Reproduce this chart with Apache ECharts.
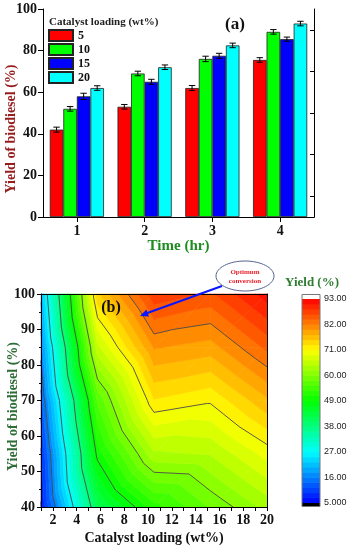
<!DOCTYPE html>
<html><head><meta charset="utf-8">
<script src="https://cdn.jsdelivr.net/npm/echarts@6/dist/echarts.min.js"></script>
<style>html,body{margin:0;padding:0;background:#fff}#c{width:350px;height:550px}</style>
</head><body><div id="c"></div>
<script>
// ===== Panel (a): yield vs time, grouped by catalyst loading =====
const times = ['1', '2', '3', '4'];
const loadings = ['5', '10', '15', '20'];
const yield5  = [42, 53, 62, 75.5];
const yield10 = [52, 69, 76, 89];
const yield15 = [58, 65, 77.5, 85.5];
const yield20 = [62, 72, 82.5, 93];
const err5  = [1.2, 1.1, 1.2, 1.1];
const err10 = [1.1, 1.1, 1.3, 1.1];
const err15 = [1.5, 1.2, 1.2, 1.0];
const err20 = [1.1, 1.1, 1.1, 1.1];

// ===== Panel (b): contour grid (x = catalyst loading, y = yield axis, z = yield %) =====
const catLoad   = [1, 5.75, 10.5, 15.25, 20];
const yieldAxis = [40, 55, 70, 85, 100];
const zRow40  = [7, 42, 52.5, 58, 63];
const zRow55  = [9, 50, 64, 64.6, 69.7];
const zRow70  = [13, 56, 73, 71.4, 77.2];
const zRow85  = [17, 66, 80, 78.8, 84.8];
const zRow100 = [21, 75, 88, 86, 92];
const contourLevels = [16, 27, 38, 49, 60, 71, 82];
const zMin = 5, zMax = 93, zMajor = 11;

const SERIF = 'Liberation Serif';
const zGrid = [zRow40, zRow55, zRow70, zRow85, zRow100];
const barColors = ['#ff0000', '#00ff00', '#0000ff', '#00ffff'];
const yieldSets = [yield5, yield10, yield15, yield20];
const errSets = [err5, err10, err15, err20];

// colour scale
const cStops = [[5, [0, 0, 255]], [27, [0, 255, 255]], [49, [0, 255, 0]], [71, [255, 255, 0]], [93, [255, 0, 0]]];
function colorOf(v) {
  if (v <= cStops[0][0]) return 'rgb(0,0,255)';
  for (let i = 1; i < cStops.length; i++) {
    if (v <= cStops[i][0]) {
      const a = cStops[i - 1], b = cStops[i];
      const t = (v - a[0]) / (b[0] - a[0]);
      const c = a[1].map((q, k) => Math.round(q + (b[1][k] - q) * t));
      return 'rgb(' + c.join(',') + ')';
    }
  }
  return 'rgb(255,0,0)';
}
const nBands = 40;
const bandStep = (zMax - zMin) / nBands;
function bandIdx(v) { return Math.max(0, Math.min(nBands - 1, Math.floor((v - zMin) / bandStep))); }
function bandColor(k) { return colorOf(zMin + (k + 0.5) * bandStep); }

// clip a polygon of {p, v} vertices to v >= L (above) or v <= L
function clipPoly(poly, L, above) {
  const out = [];
  for (let a = 0; a < poly.length; a++) {
    const P = poly[a], Q = poly[(a + 1) % poly.length];
    const pin = above ? P.v >= L : P.v <= L;
    const qin = above ? Q.v >= L : Q.v <= L;
    if (pin) out.push(P);
    if (pin !== qin) {
      const t = (L - P.v) / (Q.v - P.v);
      out.push({ p: [P.p[0] + (Q.p[0] - P.p[0]) * t, P.p[1] + (Q.p[1] - P.p[1]) * t], v: L });
    }
  }
  return out;
}
function cellTriangles(api, i, j) {
  const BL = { p: api.coord([catLoad[i], yieldAxis[j]]), v: zGrid[j][i] };
  const BR = { p: api.coord([catLoad[i + 1], yieldAxis[j]]), v: zGrid[j][i + 1] };
  const TR = { p: api.coord([catLoad[i + 1], yieldAxis[j + 1]]), v: zGrid[j + 1][i + 1] };
  const TL = { p: api.coord([catLoad[i], yieldAxis[j + 1]]), v: zGrid[j + 1][i] };
  return [[BL, BR, TR], [BL, TR, TL]];
}
const cellData = [];
for (let j = 0; j < yieldAxis.length - 1; j++)
  for (let i = 0; i < catLoad.length - 1; i++) cellData.push([catLoad[i], yieldAxis[j], i, j]);

const chart = echarts.init(document.getElementById('c'), null, { renderer: 'canvas' });

const series = [];
loadings.forEach((name, s) => {
  series.push({
    name: name, type: 'bar', xAxisIndex: 0, yAxisIndex: 0,
    data: yieldSets[s], barGap: '0%', barCategoryGap: '20%',
    itemStyle: { color: barColors[s], borderColor: '#222', borderWidth: 0.8 }
  });
});
const errData = [];
loadings.forEach((name, s) => times.forEach((t, c) => errData.push([c, s, yieldSets[s][c], errSets[s][c]])));
series.push({
  type: 'custom', xAxisIndex: 0, yAxisIndex: 0, z: 5, silent: true,
  encode: { x: 0, y: 2 },
  data: errData,
  renderItem: function (params, api) {
    const c = api.value(0), s = api.value(1), v = api.value(2), e = api.value(3);
    const band = api.size([1, 0])[0];
    const off = (s - 1.5) * band * 0.2;
    const top = api.coord([c, v + e]), bot = api.coord([c, v - e]);
    const x = top[0] + off, hw = 3.2;
    const st = { stroke: '#000', lineWidth: 1 };
    return { type: 'group', children: [
      { type: 'line', shape: { x1: x, y1: top[1], x2: x, y2: bot[1] }, style: st },
      { type: 'line', shape: { x1: x - hw, y1: top[1], x2: x + hw, y2: top[1] }, style: st },
      { type: 'line', shape: { x1: x - hw, y1: bot[1], x2: x + hw, y2: bot[1] }, style: st }
    ] };
  }
});
// contour fill: filled bands between fine levels
series.push({
  type: 'custom', xAxisIndex: 2, yAxisIndex: 2, z: 2, silent: true,
  data: cellData,
  renderItem: function (params, api) {
    const i = api.value(2), j = api.value(3);
    const children = [];
    cellTriangles(api, i, j).forEach(tri => {
      const vs = tri.map(q => q.v);
      const k0 = bandIdx(Math.min.apply(null, vs)), k1 = bandIdx(Math.max.apply(null, vs));
      for (let k = k0; k <= k1; k++) {
        let poly = tri;
        if (k > 0) poly = clipPoly(poly, zMin + k * bandStep, true);
        if (k < nBands - 1) poly = clipPoly(poly, zMin + (k + 1) * bandStep, false);
        if (poly.length < 3) continue;
        const col = bandColor(k);
        children.push({ type: 'polygon', shape: { points: poly.map(q => q.p) },
          style: { fill: col, stroke: col, lineWidth: 0.6, lineJoin: 'round' } });
      }
    });
    return { type: 'group', children: children };
  }
});
// contour lines at major levels
series.push({
  type: 'custom', xAxisIndex: 2, yAxisIndex: 2, z: 3, silent: true,
  data: cellData,
  renderItem: function (params, api) {
    const i = api.value(2), j = api.value(3);
    const children = [];
    cellTriangles(api, i, j).forEach(tri => {
      contourLevels.forEach(L => {
        const pts = [];
        for (let a = 0; a < 3; a++) {
          const P = tri[a], Q = tri[(a + 1) % 3];
          if ((P.v - L) * (Q.v - L) < 0) {
            const t = (L - P.v) / (Q.v - P.v);
            pts.push([P.p[0] + (Q.p[0] - P.p[0]) * t, P.p[1] + (Q.p[1] - P.p[1]) * t]);
          }
        }
        if (pts.length === 2) children.push({ type: 'line',
          shape: { x1: pts[0][0], y1: pts[0][1], x2: pts[1][0], y2: pts[1][1] },
          style: { stroke: '#4a4a4a', lineWidth: 0.9 } });
      });
    });
    return { type: 'group', children: children };
  }
});
// colour bar
const cbData = [];
for (let k = 0; k < nBands; k++) cbData.push([0.5, k * bandStep, k]);
series.push({
  type: 'custom', xAxisIndex: 4, yAxisIndex: 4, z: 2, silent: true,
  data: cbData,
  renderItem: function (params, api) {
    const k = api.value(2);
    const p1 = api.coord([0, k * bandStep]), p2 = api.coord([1, (k + 1) * bandStep]);
    const ch = [{ type: 'rect', shape: { x: p1[0], y: p2[1] - 0.3, width: p2[0] - p1[0], height: p1[1] - p2[1] + 0.6 },
      style: { fill: bandColor(k) } }];
    if (k === 0) ch.push({ type: 'rect', shape: { x: p1[0], y: p1[1], width: p2[0] - p1[0], height: 3.5 }, style: { fill: '#000' } });
    if (k === nBands - 1) {
      ch.push({ type: 'rect', shape: { x: p1[0], y: p2[1] - 4.5, width: p2[0] - p1[0], height: 4.5 }, style: { fill: '#fff' } });
      const b0 = api.coord([0, 0]), b1 = api.coord([1, zMax - zMin]);
      ch.push({ type: 'rect', shape: { x: b0[0], y: b1[1] - 4.5, width: b1[0] - b0[0], height: b0[1] - b1[1] + 8 },
        style: { fill: null, stroke: '#777', lineWidth: 1 } });
    }
    return { type: 'group', children: ch };
  }
});

const lbl = { fontFamily: SERIF, fontWeight: 'bold', fontSize: 14, color: '#111' };
const blackLine = { show: true, lineStyle: { color: '#000', width: 1 } };

chart.setOption({
  animation: false,
  backgroundColor: '#fff',
  grid: [
    { left: 43, top: 9, width: 271, height: 208, containLabel: false, outerBoundsMode: 'none' },
    { left: 41, top: 294, width: 226, height: 213, containLabel: false, outerBoundsMode: 'none' },
    { left: 302, top: 299, width: 18, height: 204, containLabel: false, outerBoundsMode: 'none' }
  ],
  legend: {
    data: loadings, orient: 'vertical', left: 48, top: 29, padding: 0, itemWidth: 24, itemHeight: 11, itemGap: 1,
    icon: 'rect', selectedMode: false,
    textStyle: { fontFamily: SERIF, fontWeight: 'bold', fontSize: 12, color: '#111', lineHeight: 12 }
  },
  xAxis: [
    { type: 'category', gridIndex: 0, data: times, z: 5, axisLine: blackLine,
      axisTick: { show: true, alignWithLabel: true, length: 5, lineStyle: { color: '#000' } },
      axisLabel: Object.assign({ margin: 7 }, lbl),
      name: 'Time (hr)', nameLocation: 'middle', nameGap: 22, nameMoveOverlap: false,
      nameTextStyle: { fontFamily: SERIF, fontWeight: 'bold', fontSize: 15, color: '#1e8c1e' } },
    { type: 'category', gridIndex: 0, data: times, position: 'top', z: 5, axisLine: blackLine,
      axisTick: { show: false }, axisLabel: { show: false } },
    { type: 'value', gridIndex: 1, min: 1, max: 20, interval: 1, z: 5, axisLine: blackLine,
      axisTick: { show: true, length: 4, lineStyle: { color: '#000' } },
      axisLabel: Object.assign({ margin: 6, formatter: v => (v % 2 === 0 ? String(v) : '') }, lbl),
      splitLine: { show: false },
      name: 'Catalyst loading (wt%)', nameLocation: 'middle', nameGap: 24, nameMoveOverlap: false,
      nameTextStyle: { fontFamily: SERIF, fontWeight: 'bold', fontSize: 14, color: '#111' } },
    { type: 'value', gridIndex: 1, min: 1, max: 20, position: 'top', z: 5, axisLine: blackLine,
      axisTick: { show: false }, axisLabel: { show: false }, splitLine: { show: false } },
    { type: 'value', gridIndex: 2, min: 0, max: 1, show: false }
  ],
  yAxis: [
    { type: 'value', gridIndex: 0, min: 0, max: 100, interval: 20, z: 5, axisLine: blackLine,
      axisTick: { show: true, length: 5, lineStyle: { color: '#000' } },
      axisLabel: Object.assign({ margin: 6 }, lbl), splitLine: { show: false },
      name: 'Yield of biodiesel (%)', nameLocation: 'middle', nameGap: 25, nameMoveOverlap: false,
      nameTextStyle: { fontFamily: SERIF, fontWeight: 'bold', fontSize: 14, color: '#961c1c', padding: [0, 32, 0, 0] } },
    { type: 'value', gridIndex: 0, min: 0, max: 100, interval: 20, position: 'right', z: 5, axisLine: blackLine,
      axisTick: { show: false, inside: true },
      minorTick: { show: true, splitNumber: 2, length: 4, lineStyle: { color: '#000' } },
      axisLabel: { show: false }, splitLine: { show: false }, minorSplitLine: { show: false } },
    { type: 'value', gridIndex: 1, min: 40, max: 100, interval: 10, z: 5, axisLine: blackLine,
      axisTick: { show: true, length: 4, lineStyle: { color: '#000' } },
      minorTick: { show: true, splitNumber: 2, length: 2, lineStyle: { color: '#000' } },
      axisLabel: Object.assign({ margin: 6 }, lbl), splitLine: { show: false },
      name: 'Yield of biodiesel (%)', nameLocation: 'middle', nameGap: 21, nameMoveOverlap: false,
      nameTextStyle: { fontFamily: SERIF, fontWeight: 'bold', fontSize: 14, color: '#2e6e36', padding: [0, 12, 0, 0] } },
    { type: 'value', gridIndex: 1, min: 40, max: 100, position: 'right', z: 5, axisLine: blackLine,
      axisTick: { show: false }, axisLabel: { show: false }, splitLine: { show: false } },
    { type: 'value', gridIndex: 2, min: 0, max: zMax - zMin, interval: zMajor, position: 'right',
      axisLine: { show: false }, splitLine: { show: false },
      axisTick: { show: true, length: 3, lineStyle: { color: '#333' } },
      axisLabel: { margin: 4, fontFamily: 'Liberation Sans', fontSize: 9, color: '#222',
        formatter: v => { const z = v + zMin; return z < 10 ? z.toFixed(3) : z.toFixed(2); } } }
  ],
  series: series,
  graphic: [
    { type: 'text', left: 49, top: 17, style: { text: 'Catalyst loading (wt%)', font: 'bold 11px "Liberation Serif"', fill: '#222' } },
    { type: 'text', x: 235, y: 25, style: { text: '(a)', font: 'bold 17px "Liberation Serif"', fill: '#111', align: 'center', verticalAlign: 'middle' } },
    { type: 'text', x: 111, y: 308, z: 10, style: { text: '(b)', font: 'bold 16px "Liberation Serif"', fill: '#111', align: 'center', verticalAlign: 'middle' } },
    { type: 'ellipse', shape: { cx: 245, cy: 276, rx: 29, ry: 15 }, style: { fill: '#fff', stroke: '#55628f', lineWidth: 1 } },
    { type: 'text', x: 245, y: 272, style: { text: 'Optimum', font: 'bold 7px "Liberation Serif"', fill: '#e8202a', align: 'center', verticalAlign: 'middle' } },
    { type: 'text', x: 245, y: 281, style: { text: 'conversion', font: 'bold 7px "Liberation Serif"', fill: '#e8202a', align: 'center', verticalAlign: 'middle' } },
    { type: 'line', z: 10, shape: { x1: 222, y1: 286, x2: 146, y2: 313.5 }, style: { stroke: '#0b16ff', lineWidth: 2 } },
    { type: 'polygon', z: 10, shape: { points: [[140, 316], [146.4, 309.6], [149, 316.6]] }, style: { fill: '#0b16ff' } },
    { type: 'text', x: 312, y: 283, style: { text: 'Yield (%)', font: 'bold 13px "Liberation Serif"', fill: '#2e7d32', align: 'center', verticalAlign: 'middle' } }
  ]
});
</script></body></html>
